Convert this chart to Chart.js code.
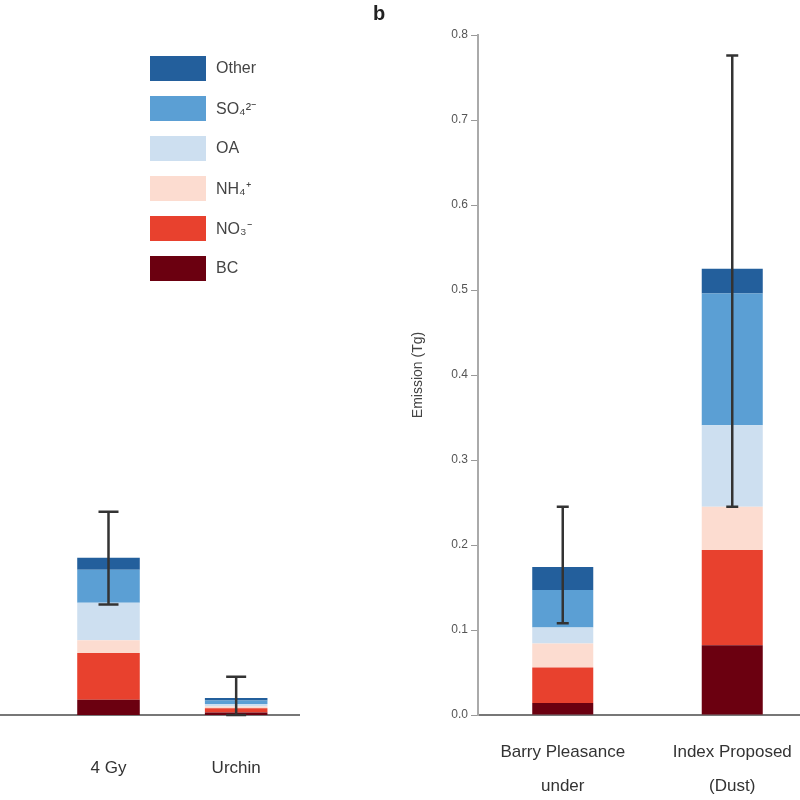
<!DOCTYPE html>
<html>
<head>
<meta charset="utf-8">
<script src="https://cdn.jsdelivr.net/npm/chart.js@4/dist/chart.umd.min.js"></script>
<style>
  html, body { margin: 0; padding: 0; background: #fff; overflow: hidden; }
  #page { position: relative; width: 800px; height: 800px; overflow: hidden; font-family: 'Liberation Sans', Arial, sans-serif; }
  #leftWrap { position: absolute; left: -83px; top: 0; width: 383px; height: 800px; }
  #rightWrap { position: absolute; left: 380px; top: 0; width: 437px; height: 800px; }
  #panelB { position: absolute; left: 373px; top: 2px; font-weight: bold; font-size: 20px; color: #222; }
  #legend { position: absolute; left: 150px; top: 48px; }
  .item { display: flex; align-items: center; height: 40px; }
  .swatch { width: 56px; height: 25px; margin-right: 10px; }
  .lbl { font-size: 16px; color: #444; }
</style>
</head>
<body>
<div id="page">
  <div id="leftWrap"><canvas id="leftChart"></canvas></div>
  <div id="rightWrap"><canvas id="rightChart"></canvas></div>
  <div id="panelB">b</div>
  <div id="legend"></div>
</div>
<script>
/* stacked species bars with error bars, two panels */

// species, bottom of the stack first
const SPECIES = ['BC', 'NO\u2083\u207B', 'NH\u2084\u207A', 'OA', 'SO\u2084\u00B2\u207B', 'Other'];
const SPECIES_COLORS = ['#6b0010', '#e8412e', '#fcdcd0', '#cddff0', '#5b9fd4', '#235f9c'];

// left panel (first category is cropped off the picture)
const leftCategories = ['', '4 Gy', 'Urchin'];
const leftBC = [null, 0.018, 0.003];
const leftNO3 = [null, 0.055, 0.005];
const leftNH4 = [null, 0.015, 0.002];
const leftOA = [null, 0.044, 0.003];
const leftSO4 = [null, 0.039, 0.004];
const leftOther = [null, 0.014, 0.003];
const leftErrLow = [null, 0.13, 0.0];
const leftErrHigh = [null, 0.239, 0.045];

// right panel
const rightCategories = [['Barry Pleasance', 'under'], ['Index Proposed', '(Dust)']];
const rightBC = [0.014, 0.082];
const rightNO3 = [0.042, 0.112];
const rightNH4 = [0.028, 0.051];
const rightOA = [0.019, 0.096];
const rightSO4 = [0.044, 0.155];
const rightOther = [0.027, 0.029];
const rightErrLow = [0.108, 0.245];
const rightErrHigh = [0.245, 0.776];

const yTickLabels = ['0.0', '0.1', '0.2', '0.3', '0.4', '0.5', '0.6', '0.7', '0.8'];
const yTitle = 'Emission (Tg)';

const FONT = 'Liberation Sans';

function makeDatasets(series) {
  return series.map((data, i) => ({
    label: SPECIES[i],
    data: data,
    backgroundColor: SPECIES_COLORS[i],
    borderWidth: 0,
    stack: 's',
  }));
}

// vertical error bars drawn from the chart's own scales
const errorBars = {
  id: 'errorBars',
  afterDatasetsDraw(chart, args, opts) {
    const { ctx, scales: { x, y } } = chart;
    ctx.save();
    ctx.strokeStyle = '#333';
    ctx.lineWidth = 2.5;
    opts.low.forEach((lo, i) => {
      const hi = opts.high[i];
      if (lo == null || hi == null) return;
      const px = x.getPixelForValue(i);
      const y1 = y.getPixelForValue(lo);
      const y2 = y.getPixelForValue(hi);
      ctx.beginPath();
      ctx.moveTo(px, y1); ctx.lineTo(px, y2);
      ctx.moveTo(px - opts.cap, y2); ctx.lineTo(px + opts.cap, y2);
      ctx.moveTo(px - opts.cap, y1); ctx.lineTo(px + opts.cap, y1);
      ctx.stroke();
    });
    ctx.restore();
  },
};

new Chart(document.getElementById('leftChart'), {
  type: 'bar',
  data: {
    labels: leftCategories,
    datasets: makeDatasets([leftBC, leftNO3, leftNH4, leftOA, leftSO4, leftOther]),
  },
  options: {
    responsive: true,
    maintainAspectRatio: false,
    animation: false,
    layout: { padding: { top: 35, left: 0, right: 0, bottom: 0 } },
    categoryPercentage: 1,
    barPercentage: 0.49,
    plugins: {
      legend: { display: false },
      tooltip: { enabled: false },
      errorBars: { low: leftErrLow, high: leftErrHigh, cap: 10 },
    },
    scales: {
      x: {
        stacked: true,
        grid: { display: false, drawTicks: false },
        border: { color: '#777', width: 2 },
        ticks: { color: '#333', font: { family: FONT, size: 17, lineHeight: 2 }, padding: 36 },
        afterFit: (s) => { s.height = 85; },
      },
      y: { stacked: true, display: false, min: 0, max: 0.8 },
    },
  },
  plugins: [errorBars],
});

new Chart(document.getElementById('rightChart'), {
  type: 'bar',
  data: {
    labels: rightCategories,
    datasets: makeDatasets([rightBC, rightNO3, rightNH4, rightOA, rightSO4, rightOther]),
  },
  options: {
    responsive: true,
    maintainAspectRatio: false,
    animation: false,
    layout: { padding: { top: 35, left: 0, right: 0, bottom: 0 } },
    categoryPercentage: 1,
    barPercentage: 0.36,
    plugins: {
      legend: { display: false },
      tooltip: { enabled: false },
      errorBars: { low: rightErrLow, high: rightErrHigh, cap: 6 },
    },
    scales: {
      x: {
        stacked: true,
        grid: { display: false, drawTicks: false },
        border: { color: '#777', width: 2 },
        ticks: { color: '#333', font: { family: FONT, size: 17, lineHeight: 2 }, padding: 20, maxRotation: 0, autoSkip: false },
        afterFit: (s) => { s.height = 85; },
      },
      y: {
        stacked: true,
        min: 0,
        max: 0.8,
        grid: { drawOnChartArea: false, tickLength: 7, color: '#999' },
        border: { color: '#aaa', width: 2 },
        ticks: {
          stepSize: 0.1,
          color: '#555',
          padding: 3,
          font: { family: FONT, size: 12 },
          callback: (v, i) => yTickLabels[i],
        },
        title: { display: true, text: yTitle, color: '#444', font: { family: FONT, size: 14 }, padding: { top: 30, bottom: 0 } },
        afterFit: (s) => { s.width = 98; },
      },
    },
  },
  plugins: [errorBars],
});

// legend, top row = top of the stack
const legend = document.getElementById('legend');
for (let i = SPECIES.length - 1; i >= 0; i--) {
  const row = document.createElement('div');
  row.className = 'item';
  row.innerHTML = '<div class="swatch" style="background:' + SPECIES_COLORS[i] + '"></div><span class="lbl">' + SPECIES[i] + '</span>';
  legend.appendChild(row);
}
</script>
</body>
</html>
